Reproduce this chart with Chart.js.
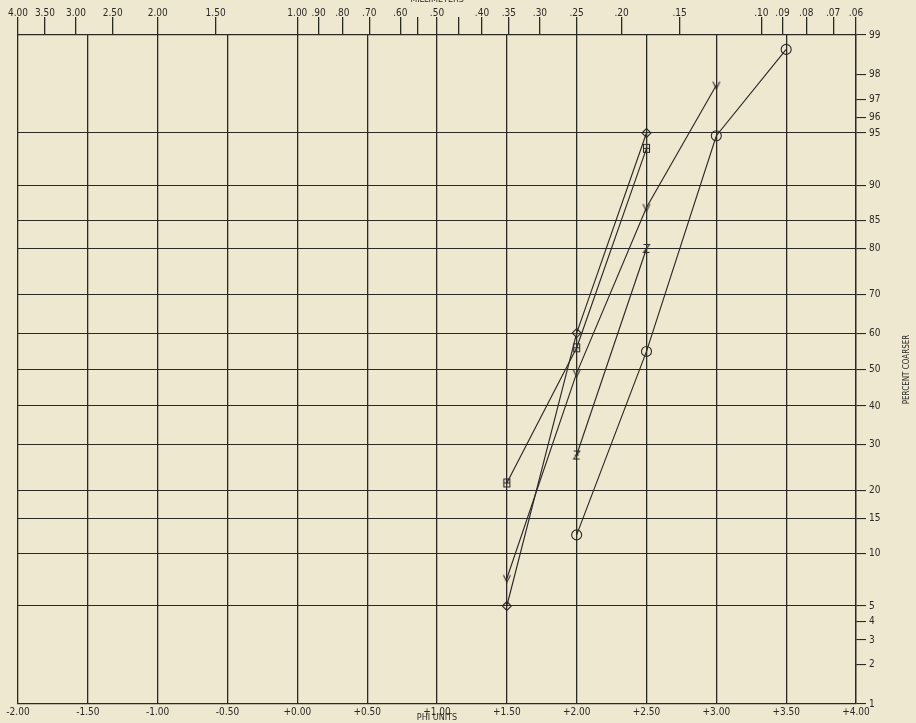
<!DOCTYPE html>
<html>
<head>
<meta charset="utf-8">
<title>Cumulative grain-size curves</title>
<script src="https://cdn.jsdelivr.net/npm/chart.js@4/dist/chart.umd.min.js"></script>
<style>
  html, body { margin: 0; padding: 0; background: #efe8d1; }
  #wrap { width: 916px; height: 723px; position: relative; }
</style>
</head>
<body>
<div id="wrap"><canvas id="c" width="916" height="723"></canvas></div>
<script>
// ---- axis ticks ----
const phiTicks  = [-2, -1.5, -1, -0.5, 0, 0.5, 1, 1.5, 2, 2.5, 3, 3.5, 4];
const phiLabels = ['-2.00', '-1.50', '-1.00', '-0.50', '+0.00', '+0.50', '+1.00',
                   '+1.50', '+2.00', '+2.50', '+3.00', '+3.50', '+4.00'];
const mmTicks   = [4, 3.5, 3, 2.5, 2, 1.5, 1, 0.9, 0.8, 0.7, 0.6, 0.55, 0.5, 0.45,
                   0.4, 0.35, 0.3, 0.25, 0.2, 0.15, 0.1, 0.09, 0.08, 0.07, 0.0625];
const mmLabels  = ['4.00', '3.50', '3.00', '2.50', '2.00', '1.50', '1.00', '.90', '.80',
                   '.70', '.60', '', '.50', '', '.40', '.35', '.30', '.25', '.20', '.15',
                   '.10', '.09', '.08', '.07', '.06'];
const pctTicks  = [1, 2, 3, 4, 5, 10, 15, 20, 30, 40, 50, 60, 70, 80, 85, 90, 95, 96, 97, 98, 99];
const pctRuled  = [1, 5, 10, 15, 20, 30, 40, 50, 60, 70, 80, 85, 90, 95, 99];

// ---- samples: phi size vs. cumulative percent coarser ----
const diamondPhi = [1.5, 2.0, 2.5];
const diamondPct = [5, 60, 95];
const squarePhi  = [1.5, 2.0, 2.5];
const squarePct  = [21.5, 56, 93.8];
const vPhi       = [1.5, 2.0, 2.5, 3.0];
const vPct       = [7.3, 49, 87, 97.6];
const zPhi       = [2.0, 2.5];
const zPct       = [27.6, 80];
const circlePhi  = [2.0, 2.5, 3.0, 3.5];
const circlePct  = [12.5, 55, 94.8, 98.7];

const INK  = '#2b2925';
const FONT = "'DejaVu Sans Condensed', 'Liberation Sans Narrow', 'DejaVu Sans', sans-serif";

// inverse of the standard normal CDF (Acklam's rational approximation)
function probit(p) {
  const a = [-3.969683028665376e+01, 2.209460984245205e+02, -2.759285104469687e+02,
             1.383577518672690e+02, -3.066479806614716e+01, 2.506628277459239e+00];
  const b = [-5.447609879822406e+01, 1.615858368580409e+02, -1.556989798598866e+02,
             6.680131188771670e+01, -1.328068155288572e+01];
  const c = [-7.784894002430293e-03, -3.223964580411365e-01, -2.400758277161838e+00,
             -2.549732539343734e+00, 4.374664141464968e+00, 2.938163982698783e+00];
  const d = [7.784695709041462e-03, 3.224671290700398e-01, 2.445134137142996e+00,
             3.754408661907416e+00];
  const lo = 0.02425, hi = 1 - lo;
  let q, r;
  if (p < lo) {
    q = Math.sqrt(-2 * Math.log(p));
    return (((((c[0]*q+c[1])*q+c[2])*q+c[3])*q+c[4])*q+c[5]) / ((((d[0]*q+d[1])*q+d[2])*q+d[3])*q+1);
  }
  if (p <= hi) {
    q = p - 0.5; r = q * q;
    return (((((a[0]*r+a[1])*r+a[2])*r+a[3])*r+a[4])*r+a[5])*q / (((((b[0]*r+b[1])*r+b[2])*r+b[3])*r+b[4])*r+1);
  }
  q = Math.sqrt(-2 * Math.log(1 - p));
  return -(((((c[0]*q+c[1])*q+c[2])*q+c[3])*q+c[4])*q+c[5]) / ((((d[0]*q+d[1])*q+d[2])*q+d[3])*q+1);
}

// probability-paper axis: percent values placed on a normal-quantile spacing
class ProbabilityScale extends Chart.Scale {
  determineDataLimits() {
    this.min = this.options.min ?? 1;
    this.max = this.options.max ?? 99;
  }
  buildTicks() {
    return (this.options.tickValues || []).map(v => ({ value: v }));
  }
  configure() {
    super.configure();
    this._zLo = probit(this.min / 100);
    this._zHi = probit(this.max / 100);
  }
  getLabelForValue(v) { return String(v); }
  getPixelForValue(v) {
    const z = probit(v / 100);
    return this.getPixelForDecimal((z - this._zLo) / (this._zHi - this._zLo));
  }
  getValueForPixel(px) {
    const t = this.getDecimalForPixel(px);
    const z = this._zLo + t * (this._zHi - this._zLo);
    // forward normal CDF via erf approximation
    const s = z / Math.SQRT2, k = 1 / (1 + 0.3275911 * Math.abs(s));
    const e = 1 - (((((1.061405429*k - 1.453152027)*k) + 1.421413741)*k - 0.284496736)*k + 0.254829592)*k*Math.exp(-s*s);
    return 50 * (1 + (s < 0 ? -e : e));
  }
}
ProbabilityScale.id = 'probability';
ProbabilityScale.defaults = {};
Chart.register(ProbabilityScale);

// small hand-lettered point symbols
function glyph(w, h, draw) {
  const cv = document.createElement('canvas');
  cv.width = w; cv.height = h;
  const g = cv.getContext('2d');
  g.strokeStyle = INK; g.lineWidth = 1.1; g.lineJoin = 'miter';
  g.beginPath(); draw(g); g.stroke();
  return cv;
}
const markBox = glyph(9, 11, g => { g.rect(1.5, 1.5, 6, 8); g.moveTo(1.5, 5.5); g.lineTo(7.5, 5.5); g.moveTo(4.5, 1.5); g.lineTo(4.5, 5.5); });
const markV   = glyph(10, 10, g => { g.moveTo(1.5, 1.5); g.lineTo(5, 8.5); g.lineTo(8.5, 1.5); });
const markZ   = glyph(10, 11, g => { g.moveTo(2, 1.5); g.lineTo(8, 1.5); g.lineTo(2, 9.5); g.lineTo(8, 9.5); g.moveTo(3, 5.5); g.lineTo(7, 5.5); });

function series(xs, ys, style, radius) {
  return {
    data: xs.map((x, i) => ({ x: x, y: ys[i] })),
    showLine: true,
    borderColor: INK,
    borderWidth: 1.15,
    tension: 0,
    pointStyle: style,
    pointRadius: radius,
    pointBorderColor: INK,
    pointBorderWidth: 1.1,
    pointBackgroundColor: 'rgba(0,0,0,0)',
    clip: false
  };
}

const tickFont = { family: FONT, size: 10 };

// right-hand axis caption, read from bottom to top
const sideCaption = {
  id: 'sideCaption',
  afterDraw(chart) {
    const { ctx, chartArea } = chart;
    ctx.save();
    ctx.translate(907, (chartArea.top + chartArea.bottom) / 2);
    ctx.rotate(-Math.PI / 2);
    ctx.font = '8px ' + FONT;
    ctx.fillStyle = INK;
    ctx.textAlign = 'center';
    ctx.textBaseline = 'middle';
    ctx.fillText('PERCENT COARSER', 0, 0);
    ctx.restore();
  }
};

new Chart(document.getElementById('c'), {
  type: 'scatter',
  data: {
    datasets: [
      series(diamondPhi, diamondPct, 'rectRot', 4.5),
      series(squarePhi, squarePct, markBox, 4),
      series(vPhi, vPct, markV, 4),
      series(zPhi, zPct, markZ, 4),
      series(circlePhi, circlePct, 'circle', 5)
    ]
  },
  options: {
    responsive: false,
    animation: false,
    events: [],
    layout: { padding: { left: 18, right: 0, top: 0, bottom: 0 } },
    plugins: { legend: { display: false }, tooltip: { enabled: false } },
    scales: {
      x: {
        type: 'linear', position: 'bottom', min: -2, max: 4,
        afterBuildTicks: s => { s.ticks = phiTicks.map(v => ({ value: v })); },
        ticks: { callback: (v, i) => phiLabels[i], autoSkip: false, maxRotation: 0, padding: 2, color: INK, font: tickFont },
        grid: { color: INK, lineWidth: 1.3, drawTicks: false },
        border: { color: INK, width: 1.3 },
        title: { display: true, text: 'PHI UNITS', padding: 0, color: INK, font: { family: FONT, size: 9 } },
        afterFit: s => { s.height = 19; s.paddingLeft = 0; s.paddingRight = 0; }
      },
      x2: {
        type: 'linear', position: 'top', min: -2, max: 4,
        afterBuildTicks: s => { s.ticks = mmTicks.map(mm => ({ value: -Math.log2(mm) })); },
        ticks: { callback: (v, i) => mmLabels[i], autoSkip: false, maxRotation: 0, padding: -2, color: INK, font: tickFont },
        grid: { drawOnChartArea: false, tickLength: 18, color: INK, lineWidth: 1.3 },
        border: { color: INK, width: 1.3 },
        title: { display: true, text: 'MILLIMETERS', padding: { top: -6, bottom: 0 }, color: INK, font: { family: FONT, size: 9 } },
        afterFit: s => { s.height = 35; s.paddingLeft = 0; s.paddingRight = 0; }
      },
      y: {
        type: 'probability', position: 'right', min: 1, max: 99,
        tickValues: pctTicks,
        ticks: { callback: v => String(v), autoSkip: false, padding: 3, color: INK, font: tickFont },
        grid: {
          color: c => (c.tick && pctRuled.includes(c.tick.value)) ? INK : 'rgba(0,0,0,0)',
          tickColor: INK, tickLength: 10, lineWidth: 1.1
        },
        border: { color: INK, width: 1.3 },
        afterFit: s => { s.width = 60; s.paddingTop = 0; s.paddingBottom = 0; }
      }
    }
  },
  plugins: [sideCaption]
});
</script>
</body>
</html>
